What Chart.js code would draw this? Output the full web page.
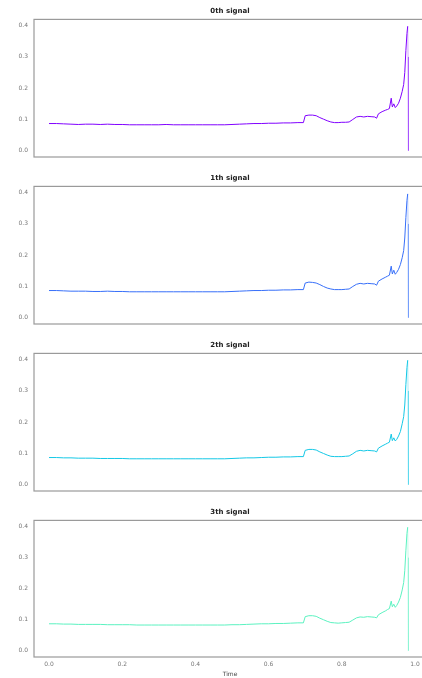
<!DOCTYPE html>
<html>
<head>
<meta charset="utf-8">
<script src="https://cdn.jsdelivr.net/npm/chart.js@4.4.1/dist/chart.umd.min.js"></script>
<style>
  html, body { margin: 0; padding: 0; background: #fff; width: 422px; height: 678px; overflow: hidden; }
  .panel { position: absolute; left: 0; width: 430px; }
</style>
</head>
<body>
<div class="panel" style="top:0px;height:167px"><canvas id="c0"></canvas></div>
<div class="panel" style="top:167px;height:167px"><canvas id="c1"></canvas></div>
<div class="panel" style="top:334px;height:167px"><canvas id="c2"></canvas></div>
<div class="panel" style="top:501px;height:177px"><canvas id="c3"></canvas></div>
<script>
// ---- data ----
const titles = ["0th signal", "1th signal", "2th signal", "3th signal"];
const xLabel = "Time";
const yTicks = [0.0, 0.1, 0.2, 0.3, 0.4];
const xTicks = [0.0, 0.2, 0.4, 0.6, 0.8, 1.0];

const times = [0.00,0.02,0.04,0.06,0.08,0.10,0.12,0.14,0.16,0.18,0.20,0.22,0.24,0.26,0.28,0.30,
  0.32,0.34,0.36,0.38,0.40,0.42,0.44,0.46,0.48,0.50,0.52,0.54,0.56,0.58,0.60,0.62,0.64,0.66,0.68,
  0.695,0.70,0.71,0.72,0.73,0.74,0.75,0.76,0.77,0.78,0.79,0.80,0.81,0.82,0.83,0.84,0.85,0.86,0.87,
  0.88,0.89,0.895,0.90,0.91,0.92,0.925,0.93,0.935,0.938,0.942,0.946,0.95,0.955,0.96,0.965,0.969,
  0.972,0.975,0.978,0.980,0.981,0.982];

const signal0 = [0.087,0.087,0.086,0.085,0.084,0.085,0.085,0.084,0.085,0.084,0.084,0.083,0.083,0.083,0.083,0.083,
  0.084,0.083,0.083,0.083,0.083,0.083,0.083,0.083,0.083,0.084,0.085,0.086,0.087,0.087,0.088,0.088,0.089,0.089,0.090,
  0.090,0.112,0.114,0.114,0.112,0.106,0.101,0.096,0.092,0.090,0.090,0.091,0.091,0.092,0.100,0.108,0.110,0.108,0.110,
  0.109,0.108,0.104,0.118,0.125,0.130,0.132,0.135,0.168,0.140,0.150,0.138,0.143,0.152,0.168,0.190,0.212,
  0.250,0.320,0.375,0.398,0.300,0.000];
const signal1 = [0.087,0.087,0.086,0.085,0.085,0.085,0.084,0.084,0.085,0.084,0.084,0.083,0.083,0.083,0.083,0.083,
  0.083,0.083,0.083,0.083,0.083,0.083,0.083,0.083,0.083,0.084,0.085,0.086,0.087,0.087,0.088,0.088,0.089,0.089,0.090,
  0.090,0.111,0.114,0.113,0.111,0.106,0.100,0.095,0.092,0.090,0.090,0.090,0.091,0.092,0.100,0.107,0.110,0.108,0.110,
  0.109,0.108,0.104,0.117,0.124,0.130,0.133,0.136,0.165,0.140,0.152,0.139,0.145,0.155,0.170,0.192,0.215,
  0.255,0.320,0.375,0.396,0.300,0.000];
const signal2 = [0.087,0.087,0.086,0.086,0.085,0.085,0.085,0.084,0.084,0.084,0.084,0.083,0.083,0.083,0.083,0.083,
  0.083,0.083,0.083,0.083,0.083,0.083,0.083,0.083,0.083,0.084,0.085,0.086,0.086,0.087,0.088,0.088,0.089,0.089,0.090,
  0.090,0.110,0.113,0.113,0.111,0.105,0.100,0.095,0.091,0.090,0.090,0.090,0.091,0.092,0.099,0.107,0.110,0.108,0.110,
  0.109,0.108,0.105,0.117,0.124,0.130,0.133,0.136,0.162,0.141,0.150,0.140,0.145,0.156,0.170,0.195,0.218,
  0.255,0.320,0.375,0.398,0.300,0.000];
const signal3 = [0.087,0.087,0.086,0.086,0.085,0.085,0.085,0.085,0.084,0.084,0.084,0.084,0.083,0.083,0.083,0.083,
  0.083,0.083,0.083,0.083,0.083,0.083,0.083,0.083,0.083,0.084,0.084,0.085,0.086,0.087,0.087,0.088,0.088,0.089,0.090,
  0.090,0.110,0.113,0.113,0.111,0.105,0.100,0.095,0.091,0.090,0.089,0.090,0.091,0.092,0.099,0.106,0.109,0.108,0.110,
  0.109,0.108,0.106,0.116,0.123,0.129,0.133,0.136,0.160,0.142,0.150,0.140,0.146,0.157,0.172,0.196,0.220,
  0.258,0.322,0.378,0.398,0.300,0.000];
const signals = [signal0, signal1, signal2, signal3];

const colors = ["#8000ff", "#376ff9", "#14c8e6", "#5bf2c0"];
const fadedColors = ["rgba(128,0,255,0.35)", "rgba(55,111,249,0.35)", "rgba(20,200,230,0.35)", "rgba(91,242,192,0.35)"];

// ---- plugins ----
const boxPlugin = {
  id: 'box',
  afterDraw(chart) {
    const a = chart.chartArea, ctx = chart.ctx;
    ctx.save();
    ctx.strokeStyle = '#9a9a9a';
    ctx.lineWidth = 1.2;
    ctx.strokeRect(a.left, a.top, a.right - a.left, a.bottom - a.top);
    ctx.restore();
  }
};

function makeChart(i) {
  const last = i === 3;
  const pts = times.map((t, k) => ({ x: t, y: signals[i][k] }));
  const n = pts.length;
  const ctx = document.getElementById('c' + i);
  return new Chart(ctx, {
    type: 'line',
    data: {
      datasets: [{
        data: pts,
        borderColor: colors[i],
        borderWidth: 1.0,
        pointRadius: 0,
        tension: 0,
        fill: false,
        segment: {
          borderColor: c => (c.p1DataIndex >= n - 2 ? fadedColors[i] : colors[i])
        }
      }]
    },
    plugins: [boxPlugin],
    options: {
      responsive: true,
      maintainAspectRatio: false,
      animation: false,
      layout: { padding: { left: 0, right: 4, top: 0, bottom: last ? 0 : 10 } },
      plugins: {
        legend: { display: false },
        tooltip: { enabled: false },
        title: {
          display: true,
          text: titles[i],
          fullSize: false,
          color: '#222',
          font: { family: 'DejaVu Sans', size: 7, weight: 'bold' },
          padding: { top: 7, bottom: 4 }
        }
      },
      scales: {
        x: {
          type: 'linear',
          min: -0.041,
          max: 1.030,
          grid: { display: false, drawTicks: false },
          border: { display: false },
          afterBuildTicks(s) { s.ticks = xTicks.map(v => ({ value: v })); },
          afterFit(s) { if (last) s.height = 21; },
          ticks: {
            display: last,
            autoSkip: false,
            maxRotation: 0,
            padding: 4,
            color: '#777',
            font: { family: 'DejaVu Sans', size: 6 },
            callback: v => Number(v).toFixed(1)
          },
          title: {
            display: last,
            text: xLabel,
            color: '#444',
            padding: { top: 0, bottom: 0 },
            font: { family: 'DejaVu Sans', size: 6 }
          }
        },
        y: {
          min: -0.02,
          max: 0.42,
          grid: { display: false, drawTicks: false },
          border: { display: false },
          afterBuildTicks(s) { s.ticks = yTicks.map(v => ({ value: v })); },
          afterFit(s) { s.width = 34; },
          ticks: {
            autoSkip: false,
            padding: 6,
            color: '#777',
            font: { family: 'DejaVu Sans', size: 6 },
            callback: v => Number(v).toFixed(1)
          }
        }
      }
    }
  });
}
for (let i = 0; i < 4; i++) makeChart(i);
</script>
</body>
</html>
